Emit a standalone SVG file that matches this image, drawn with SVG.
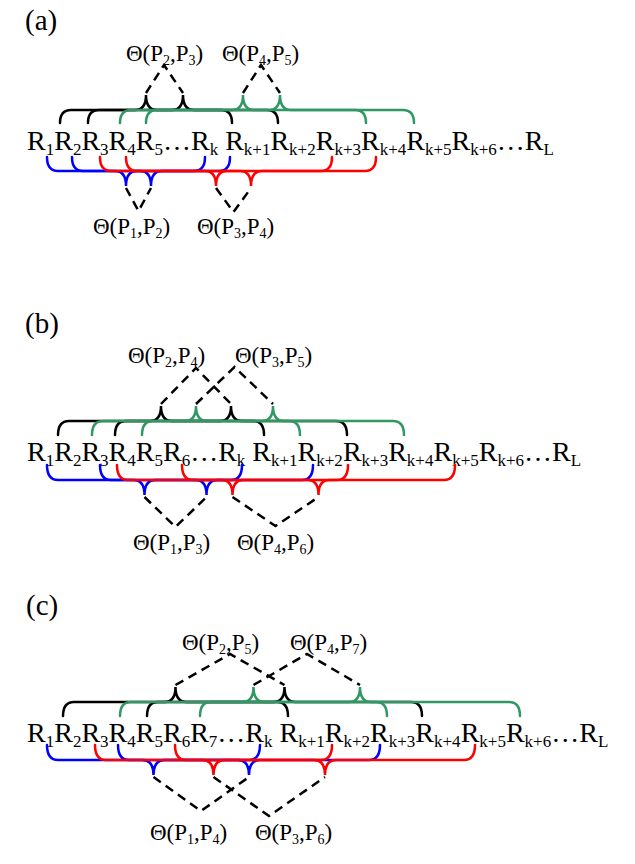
<svg xmlns="http://www.w3.org/2000/svg" width="635" height="864" viewBox="0 0 635 864">
<style>
text{font-family:"Liberation Serif","Times New Roman",serif;fill:#000}
.row{font-size:28px}
.lab{font-size:23px}
.pl{font-size:29px}
.s{font-size:17px}
.ls{font-size:14px}
.br{fill:none;stroke-width:2.5;stroke-linecap:round}
.k{stroke:#000}
.g{stroke:#2f9863}
.b{stroke:#0000ff}
.r{stroke:#ff0000}
.d{fill:none;stroke:#000;stroke-width:2.5;stroke-dasharray:9 6}
</style>
<rect width="635" height="864" fill="#fff"/>

<!-- Panel (a) -->
<g id="panel-a">
<text class="pl" x="25" y="30">(a)</text>
<g id="row-a"><text class="row" x="27" y="150">R<tspan class="s" dy="5">1</tspan><tspan dy="-5">R</tspan><tspan class="s" dy="5">2</tspan><tspan dy="-5">R</tspan><tspan class="s" dy="5">3</tspan><tspan dy="-5">R</tspan><tspan class="s" dy="5">4</tspan><tspan dy="-5">R</tspan><tspan class="s" dy="5">5</tspan><tspan dy="-5">…R</tspan><tspan class="s" dy="5">k</tspan><tspan dy="-5"> R</tspan><tspan class="s" dy="5">k+1</tspan><tspan dy="-5">R</tspan><tspan class="s" dy="5">k+2</tspan><tspan dy="-5">R</tspan><tspan class="s" dy="5">k+3</tspan><tspan dy="-5">R</tspan><tspan class="s" dy="5">k+4</tspan><tspan dy="-5">R</tspan><tspan class="s" dy="5">k+5</tspan><tspan dy="-5">R</tspan><tspan class="s" dy="5">k+6</tspan><tspan dy="-5">…R</tspan><tspan class="s" dy="5">L</tspan></text></g>
<g id="label-a-P2P3"><text class="lab" x="126" y="61">Θ(P<tspan class="ls" dy="4">2</tspan><tspan dy="-4">,P</tspan><tspan class="ls" dy="4">3</tspan><tspan dy="-4">)</tspan></text></g>
<g id="label-a-P4P5"><text class="lab" x="222" y="61">Θ(P<tspan class="ls" dy="4">4</tspan><tspan dy="-4">,P</tspan><tspan class="ls" dy="4">5</tspan><tspan dy="-4">)</tspan></text></g>
<g id="label-a-P1P2"><text class="lab" x="93" y="234">Θ(P<tspan class="ls" dy="4">1</tspan><tspan dy="-4">,P</tspan><tspan class="ls" dy="4">2</tspan><tspan dy="-4">)</tspan></text></g>
<g id="label-a-P3P4"><text class="lab" x="197" y="234">Θ(P<tspan class="ls" dy="4">3</tspan><tspan dy="-4">,P</tspan><tspan class="ls" dy="4">4</tspan><tspan dy="-4">)</tspan></text></g>
<g id="braces-a">
<path class="br k" d="M60,123 Q60,110 71,110 L135,110 Q146,110 146,95 Q146,110 157,110 L221,110 Q232,110 232,123"/>
<path class="br k" d="M88,123 Q88,110 99,110 L172,110 Q183,110 183,95 Q183,110 194,110 L267,110 Q278,110 278,123"/>
<path class="br g" d="M120,123 Q120,110 131,110 L232,110 Q243,110 243,95 Q243,110 254,110 L355,110 Q366,110 366,123"/>
<path class="br g" d="M146,123 Q146,110 157,110 L269,110 Q280,110 280,95 Q280,110 291,110 L403,110 Q414,110 414,123"/>
<path class="br b" d="M47,157 Q47,171 58,171 L115,171 Q126,171 126,186 Q126,171 137,171 L194,171 Q205,171 205,157"/>
<path class="br b" d="M72,157 Q72,171 83,171 L140,171 Q151,171 151,186 Q151,171 162,171 L219,171 Q230,171 230,157"/>
<path class="br r" d="M100,157 Q100,171 111,171 L205,171 Q216,171 216,186 Q216,171 227,171 L321,171 Q332,171 332,157"/>
<path class="br r" d="M126,157 Q126,171 137,171 L240,171 Q251,171 251,186 Q251,171 262,171 L365,171 Q376,171 376,157"/>
</g>
</g>

<!-- Panel (b) -->
<g id="panel-b">
<text class="pl" x="25" y="333">(b)</text>
<g id="row-b"><text class="row" x="27" y="461">R<tspan class="s" dy="5">1</tspan><tspan dy="-5">R</tspan><tspan class="s" dy="5">2</tspan><tspan dy="-5">R</tspan><tspan class="s" dy="5">3</tspan><tspan dy="-5">R</tspan><tspan class="s" dy="5">4</tspan><tspan dy="-5">R</tspan><tspan class="s" dy="5">5</tspan><tspan dy="-5">R</tspan><tspan class="s" dy="5">6</tspan><tspan dy="-5">…R</tspan><tspan class="s" dy="5">k</tspan><tspan dy="-5"> R</tspan><tspan class="s" dy="5">k+1</tspan><tspan dy="-5">R</tspan><tspan class="s" dy="5">k+2</tspan><tspan dy="-5">R</tspan><tspan class="s" dy="5">k+3</tspan><tspan dy="-5">R</tspan><tspan class="s" dy="5">k+4</tspan><tspan dy="-5">R</tspan><tspan class="s" dy="5">k+5</tspan><tspan dy="-5">R</tspan><tspan class="s" dy="5">k+6</tspan><tspan dy="-5">…R</tspan><tspan class="s" dy="5">L</tspan></text></g>
<g id="label-b-P2P4"><text class="lab" x="128" y="363">Θ(P<tspan class="ls" dy="4">2</tspan><tspan dy="-4">,P</tspan><tspan class="ls" dy="4">4</tspan><tspan dy="-4">)</tspan></text></g>
<g id="label-b-P3P5"><text class="lab" x="235" y="363">Θ(P<tspan class="ls" dy="4">3</tspan><tspan dy="-4">,P</tspan><tspan class="ls" dy="4">5</tspan><tspan dy="-4">)</tspan></text></g>
<g id="label-b-P1P3"><text class="lab" x="133" y="550">Θ(P<tspan class="ls" dy="4">1</tspan><tspan dy="-4">,P</tspan><tspan class="ls" dy="4">3</tspan><tspan dy="-4">)</tspan></text></g>
<g id="label-b-P4P6"><text class="lab" x="237" y="550">Θ(P<tspan class="ls" dy="4">4</tspan><tspan dy="-4">,P</tspan><tspan class="ls" dy="4">6</tspan><tspan dy="-4">)</tspan></text></g>
<g id="braces-b">
<path class="br k" d="M58,435 Q58,421 69,421 L150,421 Q161,421 161,406 Q161,421 172,421 L253,421 Q264,421 264,435"/>
<path class="br k" d="M115,435 Q115,421 126,421 L220,421 Q231,421 231,406 Q231,421 242,421 L336,421 Q347,421 347,435"/>
<path class="br g" d="M92,435 Q92,421 103,421 L185,421 Q196,421 196,406 Q196,421 207,421 L289,421 Q300,421 300,435"/>
<path class="br g" d="M142,435 Q142,421 153,421 L262,421 Q273,421 273,406 Q273,421 284,421 L393,421 Q404,421 404,435"/>
<path class="br b" d="M47,465 Q47,480 58,480 L133.5,480 Q144.5,480 144.5,495 Q144.5,480 155.5,480 L231,480 Q242,480 242,465"/>
<path class="br b" d="M100,465 Q100,480 111,480 L195.5,480 Q206.5,480 206.5,495 Q206.5,480 217.5,480 L302,480 Q313,480 313,465"/>
<path class="br r" d="M117,465 Q117,480 128,480 L221.5,480 Q232.5,480 232.5,495 Q232.5,480 243.5,480 L337,480 Q348,480 348,465"/>
<path class="br r" d="M182,465 Q182,480 193,480 L307.5,480 Q318.5,480 318.5,495 Q318.5,480 329.5,480 L444,480 Q455,480 455,465"/>
</g>
</g>

<!-- Panel (c) -->
<g id="panel-c">
<text class="pl" x="26" y="615">(c)</text>
<g id="row-c"><text class="row" x="27" y="742">R<tspan class="s" dy="5">1</tspan><tspan dy="-5">R</tspan><tspan class="s" dy="5">2</tspan><tspan dy="-5">R</tspan><tspan class="s" dy="5">3</tspan><tspan dy="-5">R</tspan><tspan class="s" dy="5">4</tspan><tspan dy="-5">R</tspan><tspan class="s" dy="5">5</tspan><tspan dy="-5">R</tspan><tspan class="s" dy="5">6</tspan><tspan dy="-5">R</tspan><tspan class="s" dy="5">7</tspan><tspan dy="-5">…R</tspan><tspan class="s" dy="5">k</tspan><tspan dy="-5"> R</tspan><tspan class="s" dy="5">k+1</tspan><tspan dy="-5">R</tspan><tspan class="s" dy="5">k+2</tspan><tspan dy="-5">R</tspan><tspan class="s" dy="5">k+3</tspan><tspan dy="-5">R</tspan><tspan class="s" dy="5">k+4</tspan><tspan dy="-5">R</tspan><tspan class="s" dy="5">k+5</tspan><tspan dy="-5">R</tspan><tspan class="s" dy="5">k+6</tspan><tspan dy="-5">…R</tspan><tspan class="s" dy="5">L</tspan></text></g>
<g id="label-c-P2P5"><text class="lab" x="182" y="650">Θ(P<tspan class="ls" dy="4">2</tspan><tspan dy="-4">,P</tspan><tspan class="ls" dy="4">5</tspan><tspan dy="-4">)</tspan></text></g>
<g id="label-c-P4P7"><text class="lab" x="290" y="650">Θ(P<tspan class="ls" dy="4">4</tspan><tspan dy="-4">,P</tspan><tspan class="ls" dy="4">7</tspan><tspan dy="-4">)</tspan></text></g>
<g id="label-c-P1P4"><text class="lab" x="150" y="840">Θ(P<tspan class="ls" dy="4">1</tspan><tspan dy="-4">,P</tspan><tspan class="ls" dy="4">4</tspan><tspan dy="-4">)</tspan></text></g>
<g id="label-c-P3P6"><text class="lab" x="255" y="840">Θ(P<tspan class="ls" dy="4">3</tspan><tspan dy="-4">,P</tspan><tspan class="ls" dy="4">6</tspan><tspan dy="-4">)</tspan></text></g>
<g id="braces-c">
<path class="br k" d="M63,716 Q63,702 74,702 L164.5,702 Q175.5,702 175.5,687 Q175.5,702 186.5,702 L277,702 Q288,702 288,716"/>
<path class="br k" d="M147,716 Q147,702 158,702 L273.5,702 Q284.5,702 284.5,687 Q284.5,702 295.5,702 L411,702 Q422,702 422,716"/>
<path class="br g" d="M120,716 Q120,702 131,702 L242.5,702 Q253.5,702 253.5,687 Q253.5,702 264.5,702 L376,702 Q387,702 387,716"/>
<path class="br g" d="M200,716 Q200,702 211,702 L349,702 Q360,702 360,687 Q360,702 371,702 L509,702 Q520,702 520,716"/>
<path class="br b" d="M47,745 Q47,760 58,760 L142.5,760 Q153.5,760 153.5,775 Q153.5,760 164.5,760 L249,760 Q260,760 260,745"/>
<path class="br b" d="M118,745 Q118,760 129,760 L238,760 Q249,760 249,775 Q249,760 260,760 L369,760 Q380,760 380,745"/>
<path class="br r" d="M95,745 Q95,760 106,760 L202.5,760 Q213.5,760 213.5,775 Q213.5,760 224.5,760 L321,760 Q332,760 332,745"/>
<path class="br r" d="M175,745 Q175,760 186,760 L314,760 Q325,760 325,775 Q325,760 336,760 L464,760 Q475,760 475,745"/>
</g>
</g>

<!-- Connectors -->
<g id="connectors">
<path class="d" d="M146,93 L164,65 L183,93"/>
<path class="d" d="M243,93 L261,65 L280,93"/>
<path class="d" d="M126,188 L138.5,211 L151,188"/>
<path class="d" d="M216,188 L233.5,212 L251,188"/>
<path class="d" d="M161,404 L196,368 L231,404"/>
<path class="d" d="M196,404 L234.5,367 L273,404"/>
<path class="d" d="M144.5,497 L175.5,527 L206.5,497"/>
<path class="d" d="M232.5,497 L275.5,526 L318.5,497"/>
<path class="d" d="M175.5,685 L230,654 L284.5,685"/>
<path class="d" d="M253.5,685 L307,654 L360,685"/>
<path class="d" d="M153.5,777 L201,811 L249,777"/>
<path class="d" d="M213.5,777 L269,816 L325,777"/>
</g>
</svg>
